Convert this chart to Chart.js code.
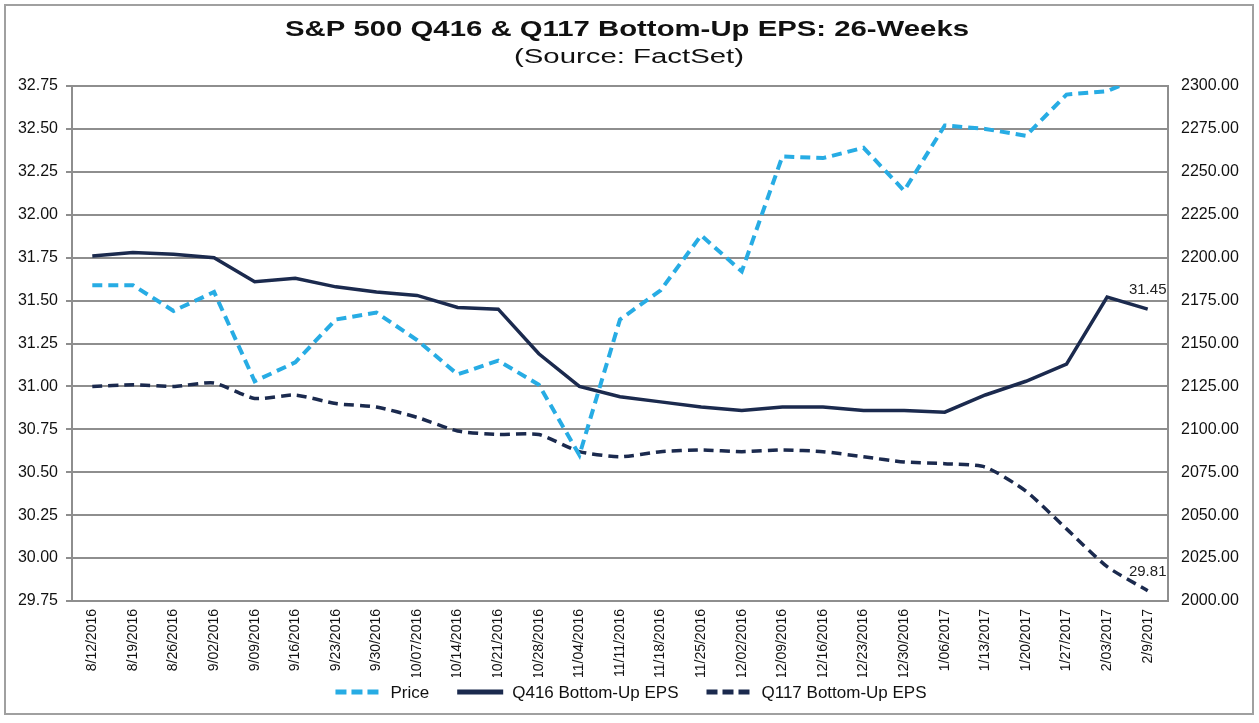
<!DOCTYPE html>
<html>
<head>
<meta charset="utf-8">
<script src="https://cdn.jsdelivr.net/npm/chart.js@4.4.1/dist/chart.umd.min.js"></script>
<style>
  html, body { margin: 0; padding: 0; background: #fff; }
  #wrap { width: 1259px; height: 723px; }
</style>
</head>
<body>
<div id="wrap"><canvas id="epsChart" width="1259" height="723"></canvas></div>
<script>
// weekly dates
const weeks = ['8/12/2016', '8/19/2016', '8/26/2016', '9/02/2016', '9/09/2016', '9/16/2016', '9/23/2016',
  '9/30/2016', '10/07/2016', '10/14/2016', '10/21/2016', '10/28/2016', '11/04/2016', '11/11/2016',
  '11/18/2016', '11/25/2016', '12/02/2016', '12/09/2016', '12/16/2016', '12/23/2016', '12/30/2016',
  '1/06/2017', '1/13/2017', '1/20/2017', '1/27/2017', '2/03/2017', '2/9/2017'];

// S&P 500 price (right axis)
const price = [2184, 2184, 2169, 2180, 2128, 2139, 2164, 2168, 2152, 2132, 2140, 2126, 2085, 2164,
  2181, 2213, 2192, 2259, 2258, 2264, 2239, 2277, 2275, 2271, 2295, 2297, 2307];

// Q416 bottom-up EPS (left axis)
const q416 = [31.76, 31.78, 31.77, 31.75, 31.61, 31.63, 31.58, 31.55, 31.53, 31.46, 31.45, 31.19, 31.00, 30.94,
  30.91, 30.88, 30.86, 30.88, 30.88, 30.86, 30.86, 30.85, 30.95, 31.03, 31.13, 31.52, 31.45];

// Q117 bottom-up EPS (left axis)
const q117 = [31.00, 31.01, 31.00, 31.02, 30.93, 30.95, 30.90, 30.88, 30.82, 30.74, 30.72, 30.72, 30.62, 30.59,
  30.62, 30.63, 30.62, 30.63, 30.62, 30.59, 30.56, 30.55, 30.53, 30.39, 30.17, 29.95, 29.81];

const leftTicks = [29.75, 30.00, 30.25, 30.50, 30.75, 31.00, 31.25, 31.50, 31.75, 32.00, 32.25, 32.50, 32.75];
const rightTicks = [2000, 2025, 2050, 2075, 2100, 2125, 2150, 2175, 2200, 2225, 2250, 2275, 2300];

const titleText = 'S&P 500 Q416 & Q117 Bottom-Up EPS: 26-Weeks';
const subtitleText = '(Source: FactSet)';

const navy = '#1b2a4e';
const lightBlue = '#27ace4';
const gridGray = '#8e8e8e';
const fontFam = "'Liberation Sans', Arial, sans-serif";

// draws text stretched to a given width (the original is wide-set)
function wideText(ctx, text, cx, cy, width) {
  const w = ctx.measureText(text).width;
  ctx.save();
  ctx.translate(cx, cy);
  ctx.scale(width / w, 1);
  ctx.textAlign = 'center';
  ctx.textBaseline = 'middle';
  ctx.fillText(text, 0, 0);
  ctx.restore();
}

// outer frame + titles
const framePlugin = {
  id: 'frame',
  beforeDraw(chart) {
    const ctx = chart.ctx;
    ctx.save();
    ctx.fillStyle = '#fff';
    ctx.fillRect(0, 0, chart.width, chart.height);
    ctx.strokeStyle = '#a0a0a0';
    ctx.lineWidth = 2;
    ctx.strokeRect(5, 5, 1248, 709);
    ctx.fillStyle = '#111';
    ctx.font = 'bold 22px ' + fontFam;
    wideText(ctx, titleText, 627, 30, 684);
    ctx.font = '20px ' + fontFam;
    wideText(ctx, subtitleText, 629, 57, 230);
    ctx.restore();
  }
};

// legend drawn by hand so spacing matches the original
const legendPlugin = {
  id: 'bottomLegend',
  afterDraw(chart) {
    const ctx = chart.ctx;
    const ds = chart.data.datasets;
    const lineW = 46, gapText = 9, gapItem = 28;
    ctx.save();
    ctx.font = '17px ' + fontFam;
    const widths = ds.map(d => lineW + gapText + ctx.measureText(d.label).width);
    const total = widths.reduce((a, b) => a + b, 0) + gapItem * (ds.length - 1);
    let x = 631 - total / 2;
    const y = 692;
    ds.forEach((d, i) => {
      ctx.strokeStyle = d.borderColor;
      ctx.lineWidth = 5;
      ctx.setLineDash(d.borderDash ? [11, 5] : []);
      ctx.beginPath();
      ctx.moveTo(x, y);
      ctx.lineTo(x + lineW, y);
      ctx.stroke();
      ctx.setLineDash([]);
      ctx.fillStyle = '#111';
      ctx.textAlign = 'left';
      ctx.textBaseline = 'middle';
      ctx.fillText(d.label, x + lineW + gapText, y + 1);
      x += widths[i] + gapItem;
    });
    ctx.restore();
  }
};

// last-value labels
const endLabels = {
  id: 'endLabels',
  afterDatasetsDraw(chart) {
    const ctx = chart.ctx;
    ctx.save();
    ctx.font = '15px ' + fontFam;
    ctx.fillStyle = '#222';
    ctx.textAlign = 'center';
    ctx.textBaseline = 'middle';
    [1, 2].forEach(i => {
      const meta = chart.getDatasetMeta(i);
      const n = meta.data.length - 1;
      const pt = meta.data[n];
      ctx.fillText(chart.data.datasets[i].data[n].toFixed(2), pt.x, pt.y - 19);
    });
    ctx.restore();
  }
};

Chart.defaults.font.family = fontFam;
Chart.defaults.color = '#111';

const ctx = document.getElementById('epsChart').getContext('2d');
new Chart(ctx, {
  type: 'line',
  data: {
    labels: weeks,
    datasets: [
      {
        label: 'Price',
        data: price,
        yAxisID: 'yR',
        borderColor: lightBlue,
        backgroundColor: lightBlue,
        borderWidth: 4,
        borderDash: [10, 6],
        pointRadius: 0,
        tension: 0
      },
      {
        label: 'Q416 Bottom-Up EPS',
        data: q416,
        yAxisID: 'yL',
        borderColor: navy,
        backgroundColor: navy,
        borderWidth: 3.5,
        pointRadius: 0,
        tension: 0
      },
      {
        label: 'Q117 Bottom-Up EPS',
        data: q117,
        yAxisID: 'yL',
        borderColor: navy,
        backgroundColor: navy,
        borderWidth: 3.5,
        borderDash: [10, 6],
        pointRadius: 0,
        tension: 0.2
      }
    ]
  },
  options: {
    responsive: false,
    animation: false,
    layout: { padding: { left: 10, right: 10, top: 86, bottom: 46 } },
    plugins: {
      title: { display: false },
      legend: { display: false },
      tooltip: { enabled: false }
    },
    scales: {
      x: {
        offset: true,
        grid: { display: false },
        border: { display: true, color: gridGray, width: 2 },
        ticks: {
          maxRotation: 90,
          minRotation: 90,
          autoSkip: false,
          font: { size: 14, family: "'Liberation Sans Narrow', 'Liberation Sans', Arial, sans-serif" },
          color: '#111',
          padding: 0
        },
        afterFit(scale) { scale.height = 76; }
      },
      yL: {
        position: 'left',
        min: 29.75,
        max: 32.75,
        afterBuildTicks(scale) { scale.ticks = leftTicks.map(v => ({ value: v })); },
        grid: { color: gridGray, lineWidth: 2, tickLength: 6, drawTicks: true },
        border: { display: true, color: gridGray, width: 2 },
        ticks: {
          font: { size: 16 },
          color: '#111',
          padding: 8,
          callback: v => Number(v).toFixed(2)
        },
        afterFit(scale) { scale.width = 62; }
      },
      yR: {
        position: 'right',
        min: 2000,
        max: 2300,
        afterBuildTicks(scale) { scale.ticks = rightTicks.map(v => ({ value: v })); },
        grid: { display: false, drawTicks: false },
        border: { display: true, color: gridGray, width: 2 },
        ticks: {
          font: { size: 16 },
          color: '#111',
          padding: 13,
          callback: v => Number(v).toFixed(2)
        },
        afterFit(scale) { scale.width = 81; }
      }
    }
  },
  plugins: [framePlugin, legendPlugin, endLabels]
});
</script>
</body>
</html>
